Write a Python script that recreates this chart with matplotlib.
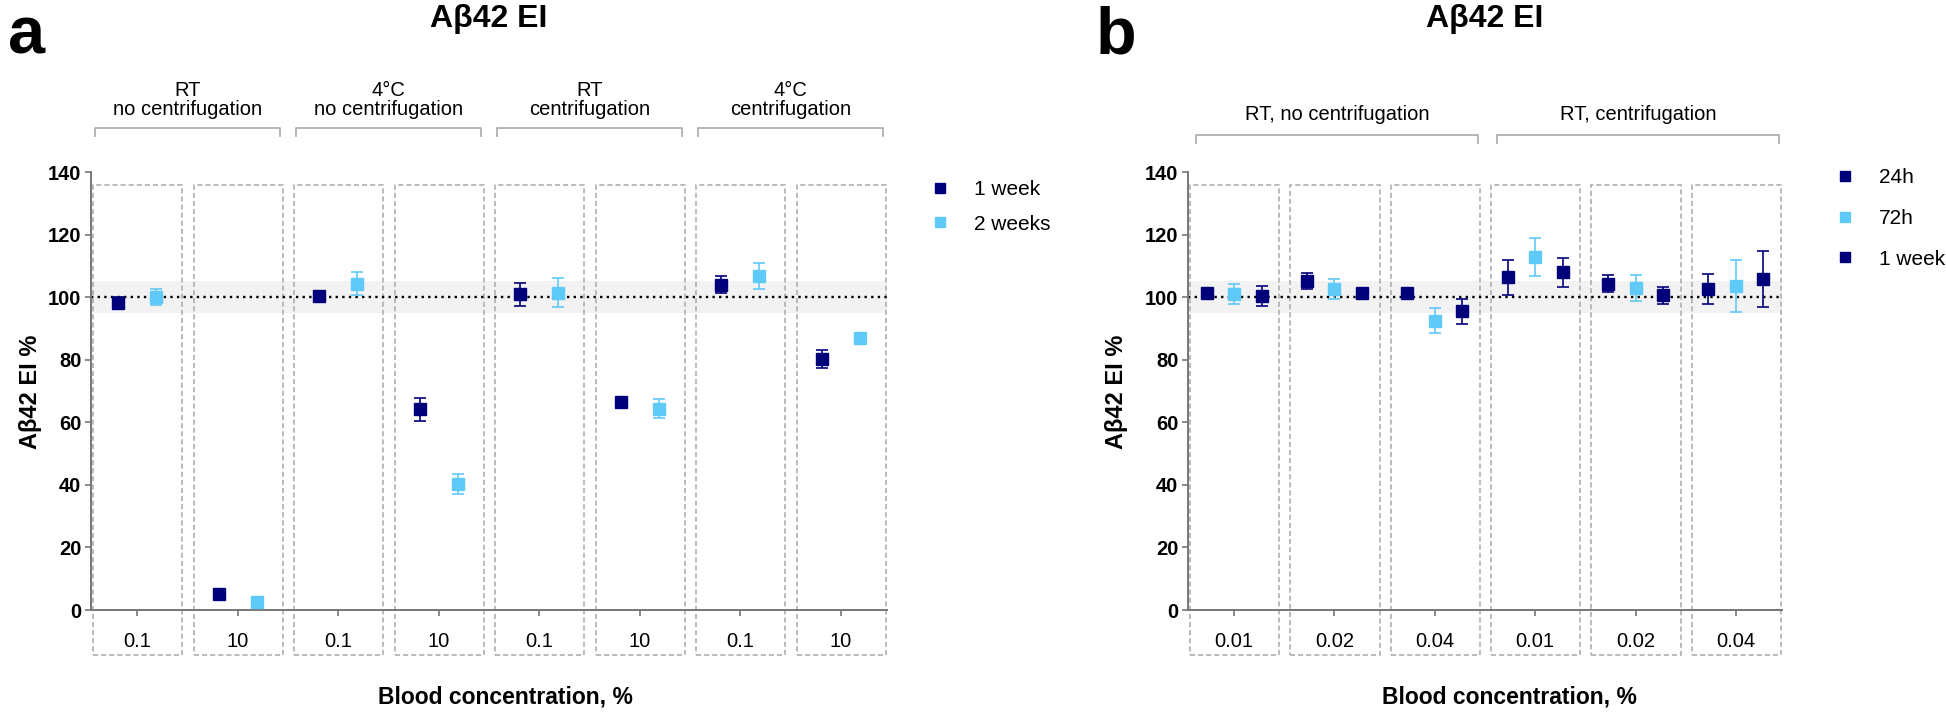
import numpy as np
import matplotlib
matplotlib.use("Agg")
import matplotlib.pyplot as plt
from matplotlib.patches import Rectangle
from matplotlib.lines import Line2D

plt.rcParams['font.family'] = ['Liberation Sans', 'DejaVu Sans']

# --- data, panel a ---
a_conditions = ["RT\nno centrifugation", "4°C\nno centrifugation",
                "RT\ncentrifugation", "4°C\ncentrifugation"]
a_conc = ["0.1", "10", "0.1", "10", "0.1", "10", "0.1", "10"]
a_series = ["1 week", "2 weeks"]
a_1week = [98.2, 5.0, 100.4, 64.1, 100.9, 66.5, 103.9, 80.1]
a_1week_err = [2.0, 0.8, 1.0, 3.8, 3.6, 1.3, 2.7, 2.9]
a_2weeks = [100.1, 2.7, 104.3, 40.2, 101.4, 64.4, 106.8, 87.0]
a_2weeks_err = [2.5, 0.5, 3.6, 3.2, 4.6, 2.9, 4.1, 0.8]

# --- data, panel b ---
b_conditions = ["RT, no centrifugation", "RT, centrifugation"]
b_conc = ["0.01", "0.02", "0.04", "0.01", "0.02", "0.04"]
b_series = ["24h", "72h", "1 week"]
b_24h = [101.2, 105.2, 101.2, 106.3, 104.3, 102.6]
b_24h_err = [1.5, 2.6, 0.8, 5.6, 2.8, 4.7]
b_72h = [101.0, 102.6, 92.5, 112.8, 102.9, 103.6]
b_72h_err = [3.2, 3.1, 4.1, 6.2, 4.2, 8.4]
b_1week = [100.4, 101.4, 95.5, 107.9, 100.6, 105.7]
b_1week_err = [3.1, 1.0, 4.0, 4.5, 2.7, 8.9]

NAVY = "#00007a"
LIGHT = "#5fc9f8"
GREY = "#a8a8a8"
W, H = 1946, 714


def px_rect(x0, x1, y_top=172, y_bot=610):
    return [x0 / W, 1 - y_bot / H, (x1 - x0) / W, (y_bot - y_top) / H]


def style_axes(ax, n, conc):
    ax.set_ylim(0, 140)
    ax.set_xlim(-0.46, n - 0.54)
    ax.set_yticks(range(0, 141, 20))
    ax.set_xticks(range(n))
    ax.set_xticklabels(conc, fontsize=14.5)
    for s in ["top", "right"]:
        ax.spines[s].set_visible(False)
    for s in ["left", "bottom"]:
        ax.spines[s].set_color("#777777")
        ax.spines[s].set_linewidth(1.4)
    ax.tick_params(axis="y", length=4, width=1.2, color="#777777", labelsize=14.5, pad=3)
    ax.tick_params(axis="x", length=4, width=1.2, color="#777777", pad=12)
    for lab in ax.get_yticklabels():
        lab.set_fontweight("bold")
    # reference band and line
    ax.axhspan(95, 105, color="#f2f2f2", zorder=0, lw=0)
    ax.axhline(100, color="black", ls=(0, (1, 1.8)), lw=1.7, zorder=2)
    # dashed boxes around each concentration
    for i in range(n):
        ax.add_patch(Rectangle((i - 0.44, -14.5), 0.89, 150.3, fill=False, ec=GREY,
                               lw=1.1, ls=(0, (3.3, 2)), clip_on=False, zorder=1))


def bracket(ax, x0, x1, y_top, y_drop, label, y_text):
    ax.plot([x0, x0, x1, x1], [y_drop, y_top, y_top, y_drop], color="#b0b0b0",
            lw=1.3, clip_on=False)
    ax.text((x0 + x1) / 2, y_text, label, ha="center", va="bottom", fontsize=14.5,
            linespacing=1.05, clip_on=False)


def series(ax, xs, ys, errs, color, label):
    ax.errorbar(xs, ys, yerr=errs, fmt="s", color=color, ecolor=color, ms=8.5,
                elinewidth=1.2, capsize=4.3, capthick=1.2, label=label, zorder=4)


fig = plt.figure(figsize=(W / 100, H / 100), dpi=100)

# ---------------- panel a ----------------
ax_a = fig.add_axes(px_rect(91, 887))
style_axes(ax_a, len(a_conc), a_conc)
xa = np.arange(len(a_conc))
series(ax_a, xa - 0.19, a_1week, a_1week_err, NAVY, a_series[0])
series(ax_a, xa + 0.19, a_2weeks, a_2weeks_err, LIGHT, a_series[1])
for g, cond in enumerate(a_conditions):
    bracket(ax_a, 2 * g - 0.42, 2 * g + 1.42, 154.0, 151.6, cond, 156.8)

handles_a = [Line2D([], [], marker="s", ls="none", color=c, ms=7.2) for c in (NAVY, LIGHT)]
fig.legend(handles_a, a_series, loc="upper left", bbox_to_anchor=(930 / W, 1 - 180 / H),
           frameon=False, fontsize=15, handlelength=1.0, handletextpad=1.1,
           labelspacing=0.75, borderpad=0, borderaxespad=0)

# ---------------- panel b ----------------
ax_b = fig.add_axes(px_rect(1188, 1782))
style_axes(ax_b, len(b_conc), b_conc)
xb = np.arange(len(b_conc))
series(ax_b, xb - 0.275, b_24h, b_24h_err, NAVY, b_series[0])
series(ax_b, xb, b_72h, b_72h_err, LIGHT, b_series[1])
series(ax_b, xb + 0.275, b_1week, b_1week_err, NAVY, b_series[2])
for g, cond in enumerate(b_conditions):
    bracket(ax_b, 3 * g - 0.38, 3 * g + 2.43, 151.8, 149.3, cond, 155.5)

handles_b = [Line2D([], [], marker="s", ls="none", color=c, ms=7.2) for c in (NAVY, LIGHT, NAVY)]
fig.legend(handles_b, b_series, loc="upper left", bbox_to_anchor=(1835 / W, 1 - 168 / H),
           frameon=False, fontsize=15, handlelength=1.0, handletextpad=1.1,
           labelspacing=1.05, borderpad=0, borderaxespad=0)

# ---------------- figure texts ----------------
fig.text(8 / W, 1 - 53 / H, "a", fontsize=48, fontweight="bold", va="baseline")
fig.text(1096 / W, 1 - 53 / H, "b", fontsize=48, fontweight="bold", va="baseline")
fig.text(489 / W, 1 - 27 / H, "Aβ42 EI", fontsize=23, fontweight="bold", ha="center", va="baseline")
fig.text(1485 / W, 1 - 27 / H, "Aβ42 EI", fontsize=23, fontweight="bold", ha="center", va="baseline")
for xc in (30, 1117):
    fig.text(xc / W, 1 - 392 / H, "Aβ42 EI %", fontsize=17, fontweight="bold",
             rotation=90, ha="center", va="center")
fig.text(505 / W, 1 - 697 / H, "Blood concentration, %", fontsize=16.5, fontweight="bold",
         ha="center", va="center")
fig.text(1509 / W, 1 - 697 / H, "Blood concentration, %", fontsize=16.5, fontweight="bold",
         ha="center", va="center")

fig.savefig("out.png", dpi=100, facecolor="white")
